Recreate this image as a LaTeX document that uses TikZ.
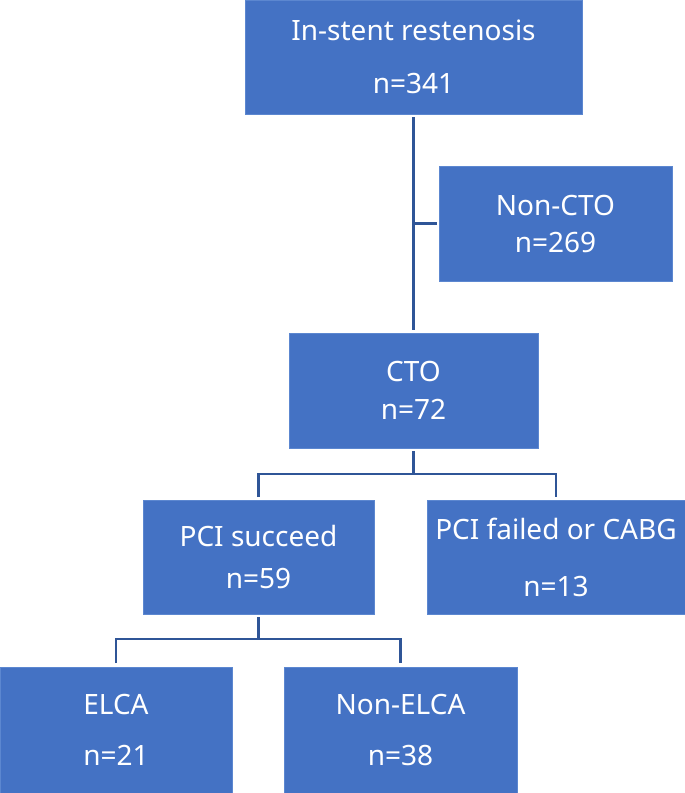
\documentclass[tikz,border=0pt]{standalone}
\usepackage{fontspec}
\setmainfont{Noto Sans}
\definecolor{boxblue}{RGB}{68,114,196}
\definecolor{boxedge}{RGB}{92,135,208}
\definecolor{lineblue}{RGB}{47,85,151}
\begin{document}
\begin{tikzpicture}[x=1pt,y=-1pt,
  box/.style={rectangle,fill=boxblue,draw=boxedge,line width=0.8pt,inner sep=0pt,outer sep=0pt,text=white,align=center},
  conn/.style={draw=lineblue,line width=2.6pt}]
\useasboundingbox (0,0) rectangle (685,793);
\node[box,minimum width=337pt,minimum height=114pt,font=\fontsize{28}{53}\selectfont] (isr) at (413.5,57) {In-stent restenosis\\n=341};
\node[box,minimum width=233pt,minimum height=115pt,font=\fontsize{28}{37}\selectfont] (noncto) at (555.5,223.5) {Non-CTO\\n=269};
\node[box,minimum width=249pt,minimum height=115pt,font=\fontsize{28}{38}\selectfont] (cto) at (413.5,390.5) {CTO\\n=72};
\node[box,minimum width=231pt,minimum height=114pt,font=\fontsize{28}{42}\selectfont] (pcis) at (258.5,557) {PCI succeed\\n=59};
\node[box,minimum width=258pt,minimum height=114pt,font=\fontsize{28}{57}\selectfont] (pcif) at (556,557) {PCI failed or CABG\\n=13};
\node[box,minimum width=232pt,minimum height=126pt,font=\fontsize{28}{51}\selectfont] (elca) at (116,730) {ELCA\\n=21};
\node[box,minimum width=233pt,minimum height=126pt,font=\fontsize{28}{51}\selectfont] (nonelca) at (400.5,730) {Non-ELCA\\n=38};
\coordinate (j1) at (isr.south |- noncto.west);
\draw[conn] ([yshift=-3pt]isr.south) -- ([yshift=3pt]cto.north);
\draw[conn] (j1) -- ([xshift=-2pt]noncto.west);
\draw[conn] ([yshift=-3pt]cto.south) -- ([yshift=-26pt]cto.south);
\draw[conn] ([yshift=3pt]pcis.north) |- ([yshift=-26pt]cto.south) -| ([yshift=3pt]pcif.north);
\draw[conn] ([yshift=-3pt]pcis.south) -- ([yshift=-25pt]pcis.south);
\draw[conn] ([yshift=4pt]elca.north) |- ([yshift=-25pt]pcis.south) -| ([yshift=4pt]nonelca.north);
\end{tikzpicture}
\end{document}
